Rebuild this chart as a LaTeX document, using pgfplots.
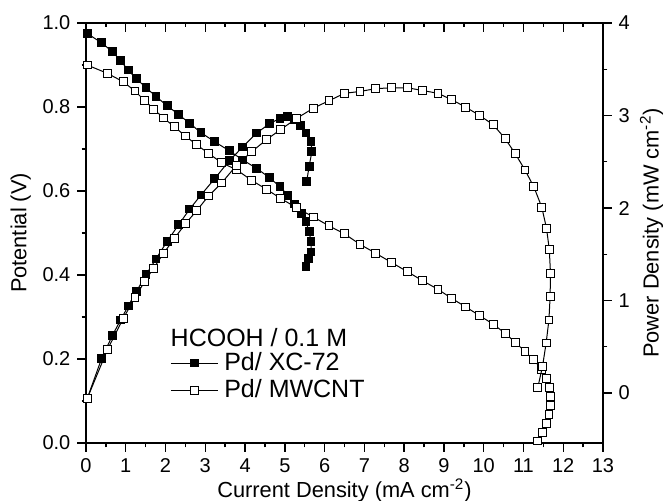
\documentclass[border=0pt]{standalone}
\usepackage{fontspec}
\setmainfont{Liberation Sans}
\usepackage{pgfplots}
\pgfplotsset{compat=1.18}

% polarization curves, left axis (V)
\pgfplotstableread{
x V
0.03 0.975
0.39 0.953
0.66 0.932
0.87 0.910
1.06 0.888
1.27 0.867
1.51 0.846
1.76 0.825
2.04 0.803
2.33 0.782
2.61 0.761
2.89 0.739
3.24 0.717
3.60 0.696
3.94 0.674
4.29 0.654
4.61 0.632
4.88 0.610
5.07 0.590
5.24 0.569
5.41 0.547
5.53 0.527
5.61 0.503
5.66 0.479
5.66 0.455
5.59 0.440
5.53 0.420
}\xcpol

\pgfplotstableread{
x V
0.03 0.900
0.54 0.880
0.94 0.860
1.23 0.838
1.48 0.815
1.70 0.795
1.95 0.774
2.22 0.753
2.50 0.731
2.78 0.710
3.08 0.690
3.41 0.667
3.78 0.651
4.17 0.625
4.54 0.604
4.90 0.582
5.30 0.560
5.72 0.538
6.11 0.517
6.50 0.498
6.89 0.473
7.28 0.452
7.68 0.430
8.08 0.408
8.47 0.386
8.85 0.366
9.20 0.344
9.55 0.324
9.90 0.303
10.24 0.283
10.54 0.261
10.79 0.240
11.04 0.218
11.26 0.198
11.46 0.175
11.58 0.154
11.65 0.133
11.68 0.110
11.67 0.089
11.64 0.068
11.57 0.047
11.48 0.025
11.36 0.005
}\cntpol

% power density curves, right axis (mW cm-2)
\pgfplotstableread{
x P
0.03 -0.06
0.39 0.37
0.66 0.62
0.87 0.79
1.06 0.94
1.27 1.10
1.51 1.28
1.76 1.45
2.04 1.64
2.33 1.82
2.61 1.99
2.89 2.14
3.24 2.32
3.60 2.51
3.94 2.66
4.29 2.81
4.61 2.91
4.88 2.97
5.07 2.99
5.25 2.96
5.40 2.89
5.53 2.81
5.66 2.72
5.68 2.61
5.61 2.45
5.55 2.29
}\xcpow

\pgfplotstableread{
x P
0.03 -0.06
0.54 0.47
0.94 0.81
1.23 1.03
1.48 1.21
1.70 1.35
1.95 1.51
2.22 1.67
2.50 1.83
2.78 1.97
3.08 2.13
3.41 2.27
3.78 2.46
4.17 2.61
4.54 2.74
4.90 2.85
5.30 2.97
5.72 3.08
6.11 3.16
6.50 3.24
6.89 3.26
7.28 3.29
7.68 3.30
8.08 3.30
8.47 3.27
8.85 3.24
9.20 3.17
9.55 3.09
9.90 3.00
10.24 2.90
10.54 2.75
10.79 2.59
11.04 2.41
11.26 2.23
11.46 2.01
11.58 1.78
11.65 1.55
11.68 1.29
11.67 1.04
11.64 0.79
11.57 0.54
11.48 0.29
11.36 0.06
}\cntpow

\pgfplotsset{
  base/.style={
    width=258.5pt, height=210pt, scale only axis,
    xmin=0, xmax=13,
    axis line style={line width=0.8pt},
    every tick/.style={black, line width=0.7pt},
    major tick length=4.3pt, minor tick length=2.2pt,
    tick align=outside,
    ticklabel style={font=\fontsize{10}{11}\selectfont},
    /pgf/number format/assume math mode=true,
    clip=false,
  },
  xc/.style={black, line width=0.5pt, mark=square*, mark size=1.95pt,
    mark options={solid, fill=black, line width=0.5pt}},
  cnt/.style={black, line width=0.5pt, mark=square*, mark size=1.95pt,
    mark options={solid, fill=white, line width=0.5pt}},
}

\begin{document}
\begin{tikzpicture}
\begin{axis}[base,
  ymin=0, ymax=1,
  xtick={0,1,...,13}, minor x tick num=1,
  ytick={0,0.2,...,1.0}, minor y tick num=1,
  xtick pos=bottom, ytick pos=left,
  yticklabel style={/pgf/number format/.cd, fixed, fixed zerofill, precision=1},
  xlabel={Current Density (mA cm\textsuperscript{-2})},
  ylabel={Potential (V)},
  every axis x label/.style={at={(axis description cs:0.5,-0.112)}, anchor=center,
    font=\fontsize{10.9}{13}\selectfont},
  every axis y label/.style={at={(axis description cs:-0.126,0.5)}, rotate=90, anchor=center,
    font=\fontsize{10.9}{13}\selectfont},
  legend style={draw=none, fill=none, inner sep=0pt,
    at={(axis cs:2.11,0.158)}, anchor=west,
    row sep=3pt,
    nodes={inner sep=0pt, font=\fontsize{12.5}{14}\selectfont}},
  legend cell align=left,
  legend image code/.code={
    \draw[mark repeat=2, mark phase=2, #1] plot coordinates {(0pt,0pt) (11.75pt,0pt) (23.5pt,0pt)};
    \path (26.5pt,0pt);},
]
\addplot[xc] table[x=x, y=V] {\xcpol};
\addlegendentry{Pd/ XC-72}
\addplot[cnt] table[x=x, y=V] {\cntpol};
\addlegendentry{Pd/ MWCNT}
\node[anchor=west, inner sep=0pt, font=\fontsize{12.5}{14}\selectfont] at (axis cs:2.12,0.252) {HCOOH / 0.1 M};
\end{axis}

\begin{axis}[base,
  ymin=-0.54, ymax=4,
  axis x line=none,
  axis y line*=right,
  ytick={0,1,...,4}, minor y tick num=1,
  ylabel={Power Density (mW cm\textsuperscript{-2})},
  every axis y label/.style={at={(axis description cs:1.094,0.5)}, rotate=90, anchor=center,
    font=\fontsize{10.9}{13}\selectfont},
]
\addplot[xc] table[x=x, y=P] {\xcpow};
\addplot[cnt] table[x=x, y=P] {\cntpow};
\end{axis}

\begin{axis}[base,
  ymin=0, ymax=1,
  axis y line=none,
  axis x line*=top,
  xtick={0,1,...,13}, minor x tick num=1,
  xticklabels={},
  tick align=inside,
]
\end{axis}

\pgfresetboundingbox
\path ([xshift=-43pt,yshift=-28.5pt]current axis.south west) rectangle ([xshift=30.5pt,yshift=11.5pt]current axis.north east);
\end{tikzpicture}
\end{document}
